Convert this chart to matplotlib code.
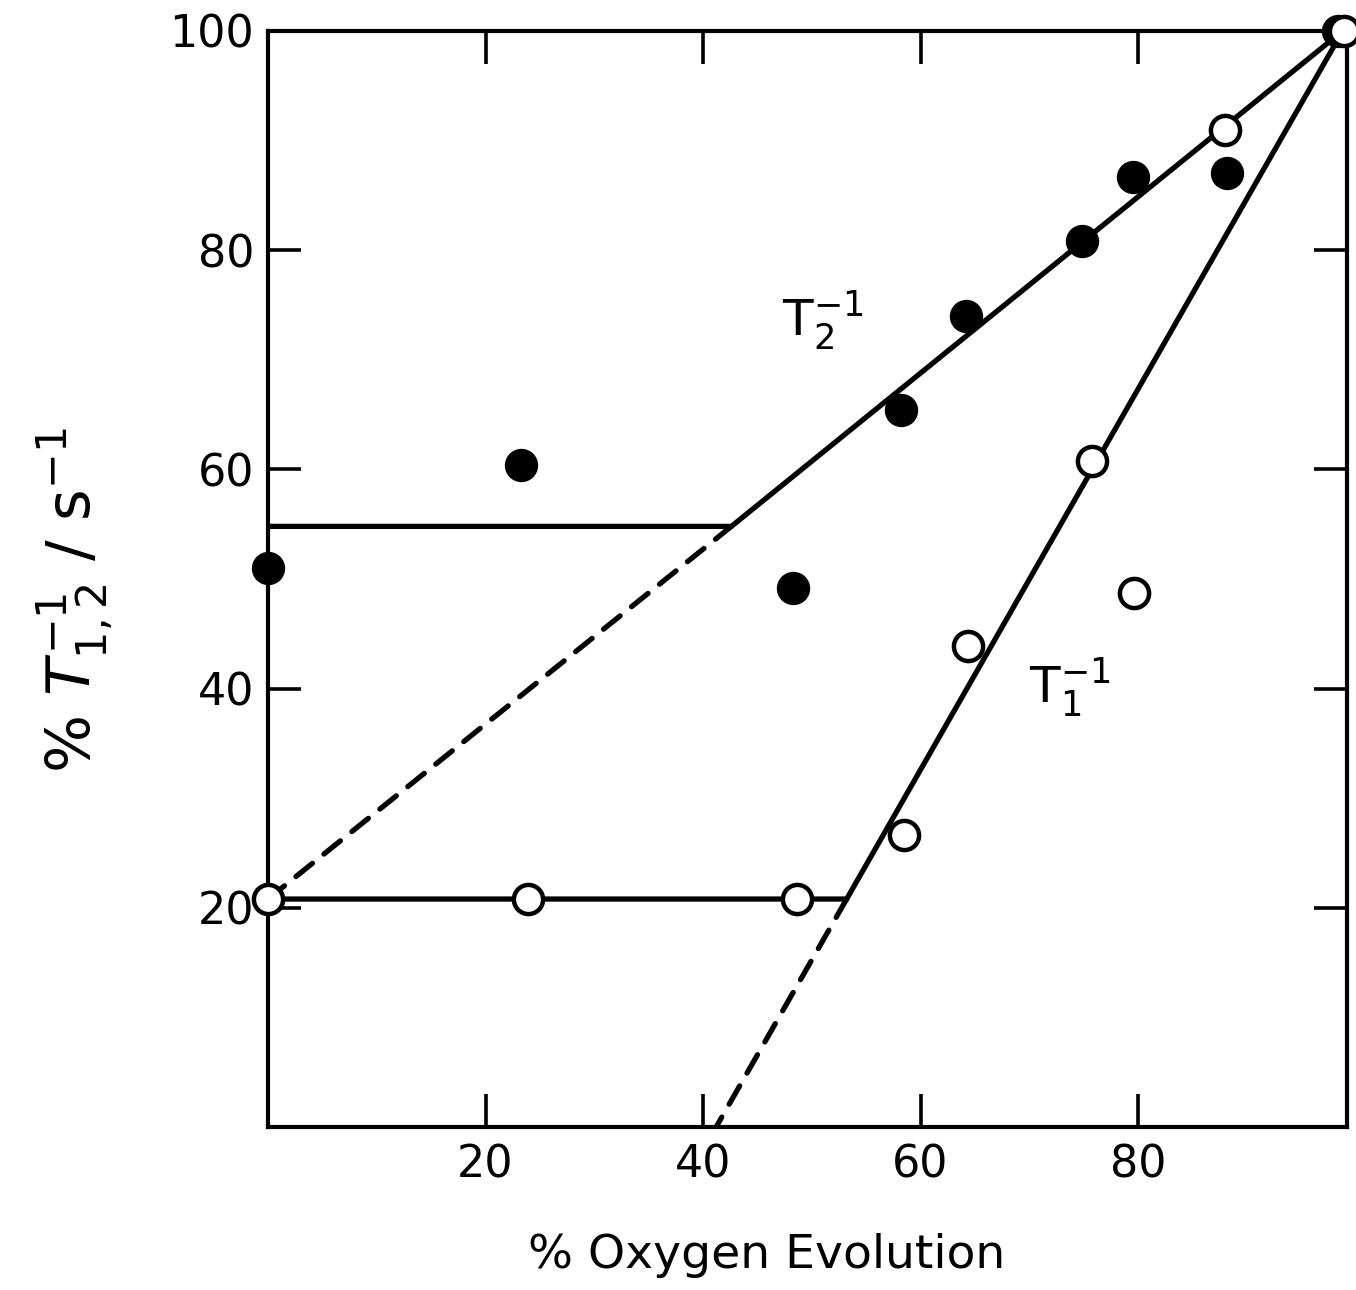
import matplotlib
matplotlib.use("Agg")
import matplotlib.pyplot as plt

plt.rcParams['font.family'] = ['DejaVu Sans']
plt.rcParams['mathtext.fontset'] = 'dejavusans'

# ---- data ----
t2_x = [0, 23.3, 48.3, 58.2, 64.2, 74.8, 79.5, 88.2, 98.4]
t2_y = [51.0, 60.4, 49.2, 65.4, 74.0, 80.8, 86.7, 87.0, 100.0]

t1_x = [0, 23.9, 48.6, 58.5, 64.4, 75.8, 79.6, 88.0, 98.9]
t1_y = [20.8, 20.8, 20.8, 26.6, 43.9, 60.8, 48.7, 91.0, 100.0]

t2_fit_x = [0, 42.6, 98.8]
t2_fit_y = [54.8, 54.8, 100.0]
t2_dash_x = [0, 42.6]
t2_dash_y = [20.8, 54.8]

t1_fit_x = [0, 53.2, 98.8]
t1_fit_y = [20.8, 20.8, 100.0]
t1_dash_x = [53.2, 41.2]
t1_dash_y = [20.8, 0]

x_ticks = [20, 40, 60, 80]
y_ticks = [20, 40, 60, 80, 100]

fig = plt.figure(figsize=(13.56, 12.9), dpi=100)
ax = fig.add_axes([268/1356, (1290-1127)/1290, (1347-268)/1356, (1127-31)/1290])

lw = 3.8
ax.plot(t2_fit_x, t2_fit_y, color='black', lw=lw, solid_joinstyle='miter', zorder=2)
ax.plot(t1_fit_x, t1_fit_y, color='black', lw=lw, solid_joinstyle='miter', zorder=2)
l1, = ax.plot(t2_dash_x, t2_dash_y, color='black', lw=lw, dash_capstyle='round', zorder=2)
l2, = ax.plot(t1_dash_x, t1_dash_y, color='black', lw=lw, dash_capstyle='round', zorder=2)
for l in (l1, l2):
    l.set_dashes([4.0, 2.8])

ax.plot(t2_x, t2_y, 'o', ms=23, mfc='black', mec='black', mew=1, ls='none', zorder=4, clip_on=False)
ax.plot(t1_x, t1_y, 'o', ms=21, mfc='white', mec='black', mew=3.2, ls='none', zorder=5, clip_on=False)

ax.text(47.3, 73.5, r'$\mathrm{T}_2^{-1}$', fontsize=36, ha='left', va='center')
ax.text(70.0, 40.0, r'$\mathrm{T}_1^{-1}$', fontsize=36, ha='left', va='center')

ax.set_xlim(0, 99.2)
ax.set_ylim(0, 100)
ax.set_xticks(x_ticks)
ax.set_xticklabels([str(v) for v in x_ticks])
ax.set_yticks(y_ticks)
ax.set_yticklabels([str(v) for v in y_ticks])

for s in ax.spines.values():
    s.set_linewidth(3.0)

ax.tick_params(axis='both', direction='in', length=24, width=2.6, labelsize=32,
               top=True, right=True)
ax.tick_params(axis='x', pad=12)
ax.tick_params(axis='y', pad=10)

ax.set_xlabel('% Oxygen Evolution', fontsize=34)
ax.xaxis.set_label_coords((767-268)/1079, (1127-1255)/1096)
ax.xaxis.label.set_va('center')
ax.set_ylabel(r'% $T^{-1}_{1,2}$ / s$^{-1}$', fontsize=44)
ax.yaxis.set_label_coords((75-268)/1079, (1127-600)/1096)
ax.yaxis.label.set_va('center')

fig.savefig('out.png', dpi=100)
